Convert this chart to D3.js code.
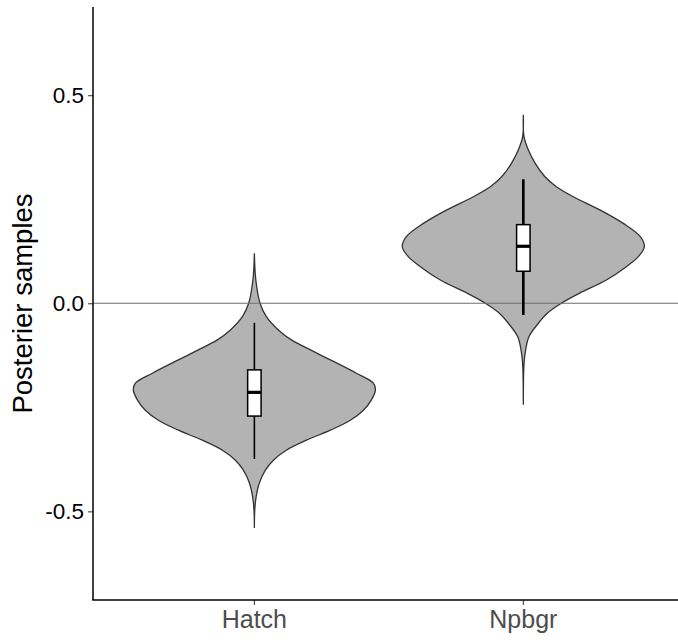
<!DOCTYPE html>
<html>
<head>
<meta charset="utf-8">
<script src="https://cdn.jsdelivr.net/npm/d3@7"></script>
<style>
  html, body { margin: 0; padding: 0; background: #fff; }
  svg { display: block; }
</style>
</head>
<body>
<svg id="chart" width="678" height="640"></svg>
<script>
// Groups on the x axis
const categories = ["Hatch", "Npbgr"];

// Kernel density profiles of the posterior samples: [value, relative density]
const hatchDensity = [
  [0.120, 0.000], [0.056, 0.012], [0.000, 0.047], [-0.032, 0.099], [-0.064, 0.198],
  [-0.088, 0.306], [-0.112, 0.463], [-0.136, 0.628], [-0.168, 0.843], [-0.192, 0.983],
  [-0.208, 1.000], [-0.232, 0.967], [-0.257, 0.901], [-0.281, 0.793], [-0.305, 0.628],
  [-0.329, 0.430], [-0.353, 0.264], [-0.377, 0.157], [-0.401, 0.091], [-0.432, 0.041],
  [-0.466, 0.014], [-0.497, 0.003], [-0.540, 0.000]
];
const npbgrDensity = [
  [0.453, 0.000], [0.400, 0.006], [0.369, 0.041], [0.337, 0.097], [0.304, 0.179],
  [0.280, 0.273], [0.256, 0.413], [0.224, 0.636], [0.192, 0.826], [0.160, 0.967],
  [0.136, 1.000], [0.112, 0.950], [0.088, 0.851], [0.056, 0.686], [0.024, 0.463],
  [0.000, 0.314], [-0.024, 0.198], [-0.048, 0.124], [-0.080, 0.047], [-0.112, 0.019],
  [-0.144, 0.006], [-0.244, 0.000]
];
const densities = [hatchDensity, npbgrDensity];

// Box summaries: lower whisker, Q1, median, Q3, upper whisker
const whiskerLow  = [-0.374, -0.028];
const quartile1   = [-0.271, 0.077];
const medians     = [-0.214, 0.137];
const quartile3   = [-0.160, 0.189];
const whiskerHigh = [-0.047, 0.298];

// Axis ticks
const yTicks = [-0.5, 0.0, 0.5];
const yTickLabels = ["-0.5", "0.0", "0.5"];
const yDomain = [-0.713, 0.712];
const refLine = 0;

const svg = d3.select("#chart");
const panel = { left: 93, right: 684.7, top: 7, bottom: 600 };
const W = 678;

const x = d3.scaleBand()
  .domain(categories)
  .range([panel.left, panel.right])
  .paddingInner(0.1)
  .paddingOuter(0.15);

const y = d3.scaleLinear().domain(yDomain).range([panel.bottom, panel.top]);

const halfW = d3.scaleLinear().domain([0, 1]).range([0, x.bandwidth() / 2]);

const center = c => x(c) + x.bandwidth() / 2;

// Violins
const area = d3.area()
  .curve(d3.curveCatmullRom)
  .y(d => y(d[0]));

categories.forEach((c, i) => {
  const cx = center(c);
  svg.append("path")
    .datum(densities[i])
    .attr("d", area.x0(d => cx - halfW(d[1])).x1(d => cx + halfW(d[1])))
    .attr("fill", "#b3b3b3")
    .attr("stroke", "#333333")
    .attr("stroke-width", 1.3);
});

// Reference line at zero
svg.append("line")
  .attr("x1", panel.left).attr("x2", W)
  .attr("y1", y(refLine)).attr("y2", y(refLine))
  .attr("stroke", "#6e6e6e")
  .attr("stroke-width", 1.1);

// Box plots
const boxW = x.step() * 0.05;
const whiskerWidths = [1.6, 2.6];
categories.forEach((c, i) => {
  const cx = center(c);
  const g = svg.append("g");
  g.append("line")
    .attr("x1", cx).attr("x2", cx)
    .attr("y1", y(whiskerHigh[i])).attr("y2", y(whiskerLow[i]))
    .attr("stroke", "#000").attr("stroke-width", whiskerWidths[i]);
  g.append("rect")
    .attr("x", cx - boxW / 2).attr("width", boxW)
    .attr("y", y(quartile3[i])).attr("height", y(quartile1[i]) - y(quartile3[i]))
    .attr("fill", "#fff").attr("stroke", "#000").attr("stroke-width", 1.5);
  g.append("line")
    .attr("x1", cx - boxW / 2).attr("x2", cx + boxW / 2)
    .attr("y1", y(medians[i])).attr("y2", y(medians[i]))
    .attr("stroke", "#000").attr("stroke-width", 3.2);
});

// Y axis
const yAxis = d3.axisLeft(y)
  .tickValues(yTicks)
  .tickFormat((d, i) => yTickLabels[i])
  .tickSize(5)
  .tickPadding(4);
const gy = svg.append("g").attr("transform", `translate(${panel.left},0)`).call(yAxis);
gy.select(".domain").remove();
gy.selectAll(".tick line").attr("stroke", "#333").attr("stroke-width", 1);
gy.selectAll(".tick text")
  .attr("fill", "#000")
  .style("font-family", "'Liberation Sans', Arial, sans-serif")
  .style("font-size", "22.5px");

// X axis
const xAxis = d3.axisBottom(x).tickSize(5).tickPadding(5);
const gx = svg.append("g").attr("transform", `translate(0,${panel.bottom})`).call(xAxis);
gx.select(".domain").remove();
gx.selectAll(".tick line").attr("stroke", "#333").attr("stroke-width", 1);
gx.selectAll(".tick text")
  .attr("fill", "#4d4d4d")
  .style("font-family", "'Liberation Sans', Arial, sans-serif")
  .style("font-size", "25px");

// Axis lines
svg.append("line")
  .attr("x1", panel.left).attr("x2", panel.left)
  .attr("y1", panel.top).attr("y2", panel.bottom)
  .attr("stroke", "#000").attr("stroke-width", 1.5);
svg.append("line")
  .attr("x1", panel.left - 0.75).attr("x2", W)
  .attr("y1", panel.bottom).attr("y2", panel.bottom)
  .attr("stroke", "#000").attr("stroke-width", 1.5);

// Y axis title
svg.append("text")
  .attr("transform", `translate(32,${(panel.top + panel.bottom) / 2}) rotate(-90)`)
  .attr("text-anchor", "middle")
  .attr("fill", "#000")
  .style("font-family", "'Liberation Sans', Arial, sans-serif")
  .style("font-size", "27.5px")
  .text("Posterier samples");
</script>
</body>
</html>
